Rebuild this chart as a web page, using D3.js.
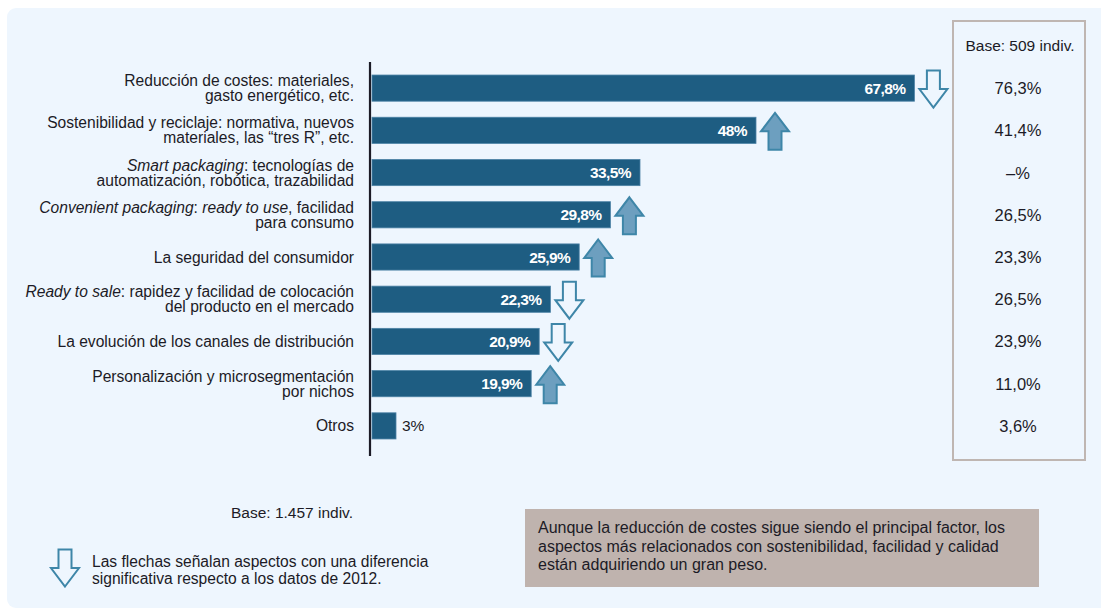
<!DOCTYPE html>
<html lang="es">
<head>
<meta charset="utf-8">
<script src="https://cdn.jsdelivr.net/npm/d3@7"></script>
<style>
  html, body { margin: 0; padding: 0; background: #ffffff; }
  svg { display: block; font-family: "Liberation Sans", Arial, Helvetica, sans-serif; }
</style>
</head>
<body>
<svg id="chart" width="1101" height="611"></svg>
<script>
// Factores (texto con *cursiva* y saltos de línea "\n")
const categories = [
  "Reducción de costes: materiales,\ngasto energético, etc.",
  "Sostenibilidad y reciclaje: normativa, nuevos\nmateriales, las “tres R”, etc.",
  "*Smart packaging*: tecnologías de\nautomatización, robótica, trazabilidad",
  "*Convenient packaging*: *ready to use*, facilidad\npara consumo",
  "La seguridad del consumidor",
  "*Ready to sale*: rapidez y facilidad de colocación\ndel producto en el mercado",
  "La evolución de los canales de distribución",
  "Personalización y microsegmentación\npor nichos",
  "Otros"
];
// Porcentaje actual (base 1.457 indiv.)
const values = [67.8, 48, 33.5, 29.8, 25.9, 22.3, 20.9, 19.9, 3];
// Porcentaje 2012 (base 509 indiv.); null = sin dato
const values2012 = [76.3, 41.4, null, 26.5, 23.3, 26.5, 23.9, 11.0, 3.6];
// Cambio significativo respecto a 2012
const trend = ["down", "up", null, "up", "up", "down", "down", "up", null];

const baseNow = "Base: 1.457 indiv.";
const base2012 = "Base: 509 indiv.";
const legendLines = ["Las flechas señalan aspectos con una diferencia",
                     "significativa respecto a los datos de 2012."];
const noteLines = ["Aunque la reducción de costes sigue siendo el principal factor, los",
                   "aspectos más relacionados con sostenibilidad, facilidad y calidad",
                   "están adquiriendo un gran peso."];

const C = {
  panel: "#eef6fe",
  bar: "#1e5d82",
  barEdge: "#4d83a6",
  text: "#1c1b26",
  arrowStroke: "#3e86a8",
  arrowFill: "#6d9fbf",
  boxStroke: "#bfb6b2",
  note: "#bfb3ae"
};

const fmtNow = v => (Number.isInteger(v) ? String(v) : v.toFixed(1).replace(".", ",")) + "%";
const fmt2012 = v => v == null ? "–%" : v.toFixed(1).replace(".", ",") + "%";

const svg = d3.select("#chart");

// Panel de fondo
svg.append("rect")
  .attr("x", 7).attr("y", 8).attr("width", 1110).attr("height", 600)
  .attr("rx", 9).attr("fill", C.panel);

const x = d3.scaleLinear().domain([0, 100]).range([371, 1171]);
const y = d3.scaleBand().domain(d3.range(categories.length))
  .range([67, 447]).paddingInner(0.38).paddingOuter(0.19);

// Recuadro de la columna 2012
svg.append("rect")
  .attr("x", 953).attr("y", 21).attr("width", 132).attr("height", 439)
  .attr("fill", "none").attr("stroke", C.boxStroke).attr("stroke-width", 2);

// Eje vertical
const axis = svg.append("g").attr("transform", "translate(370,0)")
  .call(d3.axisLeft(y).tickSize(0).tickFormat(""));
axis.select(".domain").attr("stroke", C.text).attr("stroke-width", 2.2)
  .attr("d", "M0,62V456");

// Barras
svg.append("g").selectAll("rect").data(values).join("rect")
  .attr("x", x(0) + 1)
  .attr("y", (d, i) => y(i))
  .attr("width", d => x(d) - x(0))
  .attr("height", y.bandwidth())
  .attr("fill", C.bar)
  .attr("stroke", C.barEdge).attr("stroke-width", 0.8);

// Valores en las barras
svg.append("g").selectAll("text").data(values).join("text")
  .attr("x", d => d < 8 ? x(d) + 7 : x(d) - 8)
  .attr("y", (d, i) => y(i) + y.bandwidth() / 2 + 5.5)
  .attr("text-anchor", d => d < 8 ? "start" : "end")
  .attr("fill", d => d < 8 ? C.text : "#ffffff")
  .attr("font-weight", d => d < 8 ? "normal" : "bold")
  .attr("font-size", 15.5)
  .attr("letter-spacing", d => d < 8 ? 0 : -0.6)
  .text(fmtNow);

// Flechas
function arrowPath(dir, w, h) {
  const hh = h * 0.5, sw = 13, c = w / 2;
  const pts = [[c, -h / 2], [w, -h / 2 + hh], [c + sw / 2, -h / 2 + hh],
               [c + sw / 2, h / 2], [c - sw / 2, h / 2], [c - sw / 2, -h / 2 + hh],
               [0, -h / 2 + hh]];
  const p = dir === "down" ? pts.map(([a, b]) => [a, -b]) : pts;
  return d3.line()(p) + "Z";
}
function drawArrow(g, dir, ax, ay) {
  g.append("path")
    .attr("transform", `translate(${ax},${ay})`)
    .attr("d", arrowPath(dir, 28, 37))
    .attr("fill", dir === "up" ? C.arrowFill : C.panel)
    .attr("stroke", C.arrowStroke).attr("stroke-width", 2)
    .attr("stroke-linejoin", "miter");
}
const arrows = svg.append("g");
values.forEach((v, i) => {
  if (trend[i]) drawArrow(arrows, trend[i], x(v) + 6, y(i) + y.bandwidth() / 2 + 1);
});

// Etiquetas de categoría
const labels = svg.append("g").attr("font-size", 15.6).attr("fill", C.text);
categories.forEach((cat, i) => {
  const lines = cat.split("\n");
  const cy = y(i) + y.bandwidth() / 2;
  const first = cy + 5.5 - (lines.length - 1) * 7.5;
  lines.forEach((line, k) => {
    const t = labels.append("text")
      .attr("x", 354).attr("y", first + k * 15)
      .attr("text-anchor", "end");
    line.split("*").forEach((seg, s) => {
      if (!seg) return;
      t.append("tspan").attr("font-style", s % 2 ? "italic" : "normal").text(seg);
    });
  });
});

// Columna 2012
svg.append("text").attr("x", 1020).attr("y", 51).attr("text-anchor", "middle")
  .attr("font-size", 15.5).attr("fill", C.text).text(base2012);
svg.append("g").selectAll("text").data(values2012).join("text")
  .attr("x", 1018)
  .attr("y", (d, i) => y(i) + y.bandwidth() / 2 + 6)
  .attr("text-anchor", "middle")
  .attr("font-size", 16.5).attr("fill", C.text)
  .text(fmt2012);

// Base y leyenda
svg.append("text").attr("x", 292).attr("y", 518).attr("text-anchor", "middle")
  .attr("font-size", 15.5).attr("fill", C.text).text(baseNow);
drawArrow(svg, "down", 51, 568);
svg.append("g").selectAll("text").data(legendLines).join("text")
  .attr("x", 92).attr("y", (d, i) => 567 + i * 17)
  .attr("font-size", 15.6).attr("fill", C.text).text(d => d);

// Nota
svg.append("rect").attr("x", 525).attr("y", 509).attr("width", 514).attr("height", 78)
  .attr("fill", C.note);
svg.append("g").selectAll("text").data(noteLines).join("text")
  .attr("x", 538).attr("y", (d, i) => 533 + i * 18.5)
  .attr("font-size", 16).attr("fill", C.text).text(d => d);
</script>
</body>
</html>
